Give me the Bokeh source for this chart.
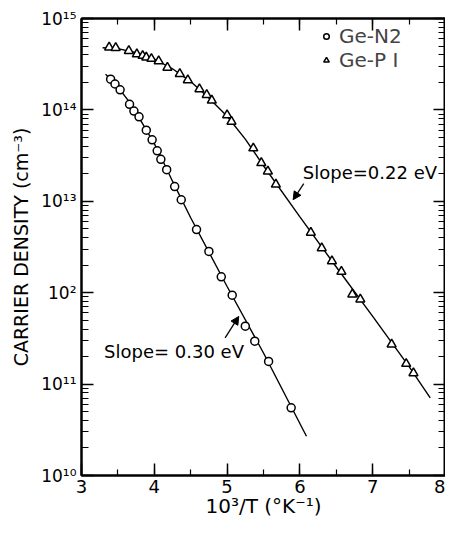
from bokeh.plotting import figure
from bokeh.models import (FixedTicker, LogAxis, LinearAxis, Legend, LegendItem,
                          Label, Arrow, NormalHead, Range1d, SingleIntervalTicker,
                          CustomJSTickFormatter)
from bokeh.embed import file_html
from bokeh.resources import INLINE

# ---- data ----
n2_x = [3.40, 3.46, 3.53, 3.66, 3.72, 3.79, 3.89, 3.97, 4.04, 4.09, 4.17, 4.28,
        4.37, 4.58, 4.75, 4.92, 5.07, 5.25, 5.38, 5.57, 5.88]
n2_y = [2.17e14, 1.92e14, 1.66e14, 1.15e14, 9.7e13, 8.4e13, 6.0e13, 4.7e13,
        3.57e13, 2.88e13, 2.22e13, 1.45e13, 1.04e13, 4.9e12, 2.83e12, 1.49e12,
        9.4e11, 4.3e11, 2.95e11, 1.77e11, 5.5e10]

p1_x = [3.38, 3.47, 3.65, 3.76, 3.84, 3.89, 3.96, 4.06, 4.18, 4.35, 4.46, 4.62,
        4.72, 4.79, 5.00, 5.06, 5.36, 5.47, 5.56, 5.67, 6.15, 6.30, 6.44, 6.57,
        6.72, 6.83, 7.26, 7.46, 7.56]
p1_y = [4.84e14, 4.77e14, 4.43e14, 4.07e14, 3.91e14, 3.75e14, 3.63e14, 3.42e14,
        2.90e14, 2.48e14, 2.12e14, 1.69e14, 1.46e14, 1.27e14, 8.77e13, 7.46e13,
        3.81e13, 2.63e13, 2.13e13, 1.53e13, 4.54e12, 3.08e12, 2.22e12, 1.70e12,
        9.6e11, 8.47e11, 2.72e11, 1.67e11, 1.32e11]

# fitted curves as drawn in the figure
n2_fit_x = [3.33, 3.40, 3.50, 3.625, 3.75, 3.875, 4.0, 4.125, 4.25, 4.5, 5.0, 5.5, 6.09]
n2_fit_y = [2.45e14, 2.19e14, 1.78e14, 1.32e14, 9.33e13, 6.31e13, 4.27e13,
            2.69e13, 1.66e13, 6.61e12, 1.17e12, 2.19e11, 2.69e10]
p1_fit_x = [3.29, 3.5, 3.75, 4.0, 4.25, 4.5, 4.75, 5.0, 5.25, 5.5, 6.0, 6.5, 7.0, 7.5, 7.79]
p1_fit_y = [4.79e14, 4.68e14, 4.22e14, 3.59e14, 2.82e14, 2.04e14, 1.35e14,
            8.51e13, 4.79e13, 2.45e13, 6.76e12, 1.91e12, 5.50e11, 1.55e11, 7.08e10]

x_ticks = [3, 4, 5, 6, 7, 8]
y_ticks = [1e10, 1e11, 1e12, 1e13, 1e14, 1e15]
y_tick_labels = ["10¹⁰", "10¹¹", "10²", "10¹³", "10¹⁴", "10¹⁵"]
y_minor = [m * t for t in y_ticks[:-1] for m in range(2, 10)]

series_names = ["Ge-N2", "Ge-P I"]
slope_labels = ["Slope=0.22 eV", "Slope= 0.30 eV"]
slope_label_pos = [(6.04, 2.07e13), (3.31, 2.29e11)]
arrow_pos = [((6.053, 1.56e13), (5.907, 1.04e13)), ((4.973, 3.21e11), (5.16, 5.5e11))]

FONT = "DejaVu Sans"

p = figure(width=445, height=520, output_backend="svg", toolbar_location=None,
           y_axis_type="log", x_range=Range1d(3, 8), y_range=Range1d(1e10, 1e15),
           min_border_left=81, min_border_right=0, min_border_top=18,
           min_border_bottom=30)
p.grid.visible = False
p.outline_line_color = "black"
p.outline_line_width = 2
p.background_fill_color = "white"
p.border_fill_color = "white"

# axes
xt = SingleIntervalTicker(interval=1, num_minor_ticks=2)
yt = FixedTicker(ticks=y_ticks, minor_ticks=y_minor)
overrides = {t: l for t, l in zip(y_ticks, y_tick_labels)}
blank = CustomJSTickFormatter(code="return ''")

xa = p.xaxis[0]
xa.ticker = xt
ya = p.yaxis[0]
ya.ticker = yt
ya.major_label_overrides = overrides

top = LinearAxis(ticker=xt, formatter=blank)
right = LogAxis(ticker=yt, formatter=blank)
p.add_layout(top, "above")
p.add_layout(right, "right")

for ax in [xa, ya, top, right]:
    ax.axis_line_width = 2
    ax.major_tick_line_width = 1.5
    ax.minor_tick_line_width = 1.2
    ax.major_tick_out = 0
    ax.minor_tick_out = 0
    ax.major_tick_in = 12
    ax.major_label_text_font = FONT
    ax.major_label_text_color = "black"
    ax.axis_label_text_font = FONT
    ax.axis_label_text_color = "black"
    ax.axis_label_text_font_style = "normal"
for ax in [xa, top]:
    ax.minor_tick_in = 6
for ax in [ya, right]:
    ax.minor_tick_in = 7
for ax in [top, right]:
    ax.major_label_standoff = 0
    ax.major_label_text_font_size = "1px"

xa.major_label_text_font_size = "18px"
xa.major_label_standoff = 4
xa.axis_label = "10³/T (°K⁻¹)"
xa.axis_label_text_font_size = "20px"
xa.axis_label_standoff = -2

ya.major_label_text_font_size = "17px"
ya.major_label_standoff = 5
ya.axis_label = "CARRIER DENSITY (cm⁻³)"
ya.axis_label_text_font_size = "19px"
ya.axis_label_standoff = 6

# fitted lines
p.line(n2_fit_x, n2_fit_y, line_color="black", line_width=1.4)
p.line(p1_fit_x, p1_fit_y, line_color="black", line_width=1.4)

# data points
r_n2 = p.scatter(n2_x, n2_y, marker="circle", size=8, fill_color="white",
                 line_color="black", line_width=1.5)
r_p1 = p.scatter(p1_x, p1_y, marker="triangle", size=9, fill_color="white",
                 line_color="black", line_width=1.5)

legend = Legend(items=[LegendItem(label=series_names[0], renderers=[r_n2]),
                       LegendItem(label=series_names[1], renderers=[r_p1])],
                location=(238, 403), border_line_color=None,
                background_fill_alpha=0, glyph_width=14, glyph_height=14,
                label_text_font=FONT, label_text_font_size="20px",
                label_standoff=6, spacing=0, padding=0, margin=0)
p.add_layout(legend, "center")

for txt, (lx, ly) in zip(slope_labels, slope_label_pos):
    p.add_layout(Label(x=lx, y=ly, text=txt, text_font=FONT, text_font_size="18px",
                       text_baseline="middle", text_align="left", text_color="black"))

for (s, e) in arrow_pos:
    p.add_layout(Arrow(x_start=s[0], y_start=s[1], x_end=e[0], y_end=e[1],
                       line_width=1.3, line_color="black",
                       end=NormalHead(size=8, fill_color="black", line_color="black")))

open("out.html", "w").write(file_html(p, INLINE))
